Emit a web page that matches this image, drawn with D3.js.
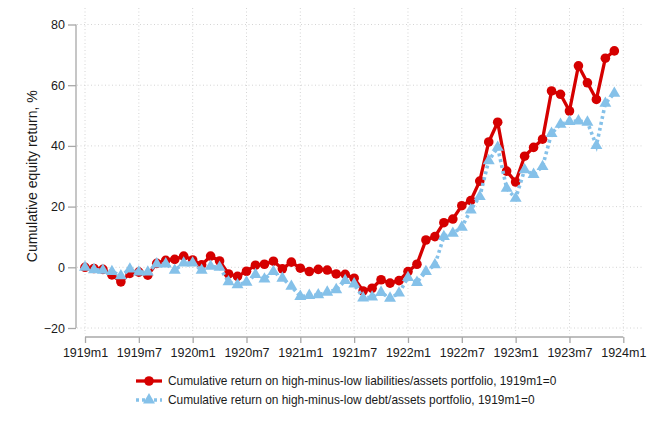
<!DOCTYPE html>
<html>
<head>
<meta charset="utf-8">
<script src="https://cdn.jsdelivr.net/npm/d3@7"></script>
<style>
  html, body { margin: 0; padding: 0; background: #fff; }
  svg { display: block; font-family: "Liberation Sans", Arial, sans-serif; }
</style>
</head>
<body>
<svg id="chart" width="648" height="432"></svg>
<script>
const months = [
  "1919m1","1919m2","1919m3","1919m4","1919m5","1919m6","1919m7","1919m8","1919m9","1919m10","1919m11","1919m12",
  "1920m1","1920m2","1920m3","1920m4","1920m5","1920m6","1920m7","1920m8","1920m9","1920m10","1920m11","1920m12",
  "1921m1","1921m2","1921m3","1921m4","1921m5","1921m6","1921m7","1921m8","1921m9","1921m10","1921m11","1921m12",
  "1922m1","1922m2","1922m3","1922m4","1922m5","1922m6","1922m7","1922m8","1922m9","1922m10","1922m11","1922m12",
  "1923m1","1923m2","1923m3","1923m4","1923m5","1923m6","1923m7","1923m8","1923m9","1923m10","1923m11","1923m12"
];
const liabilitiesSeries = [
  0, -0.4, -0.7, -2.5, -4.8, -2.0, -1.6, -2.6, 1.3, 2.3, 2.6, 3.7,
  2.4, 0.8, 3.7, 2.1, -2.2, -3.0, -1.3, 0.7, 1.0, 2.0, -0.5, 1.7,
  -0.3, -1.4, -0.7, -0.9, -2.2, -2.3, -3.6, -7.8, -6.9, -4.1, -5.2, -4.4,
  -1.4, 1.0, 9.0, 10.1, 14.7, 15.9, 20.3, 22.0, 28.4, 41.3, 47.8, 31.7,
  28.1, 36.6, 39.5, 42.2, 58.1, 57.0, 51.5, 66.4, 60.8, 55.3, 68.9, 71.3
];
const debtSeries = [
  0, -0.8, -1.0, -1.4, -2.8, -0.6, -1.6, -1.6, 1.1, 1.1, -1.0, 1.4,
  1.4, -1.0, 0.3, 0.0, -4.8, -5.8, -4.9, -2.4, -3.9, -1.4, -3.6, -6.3,
  -9.6, -9.3, -9.1, -8.2, -7.4, -4.4, -5.5, -10.1, -9.8, -8.3, -10.2, -8.5,
  -3.4, -5.0, -1.4, 0.8, 10.1, 11.2, 13.2, 18.9, 23.3, 35.1, 39.5, 26.0,
  22.7, 32.1, 30.6, 33.2, 44.1, 47.1, 48.0, 48.2, 47.8, 40.1, 54.0, 57.3
];
const xTickLabels = ["1919m1","1919m7","1920m1","1920m7","1921m1","1921m7","1922m1","1922m7","1923m1","1923m7","1924m1"];
const yTicks = [-20, 0, 20, 40, 60, 80];
const seriesNames = [
  "Cumulative return on high-minus-low liabilities/assets portfolio, 1919m1=0",
  "Cumulative return on high-minus-low debt/assets portfolio, 1919m1=0"
];
const yTitle = "Cumulative equity return, %";

const RED = "#d50000", BLUE = "#85c1e9", AXIS = "#a8a8a8", GRID = "#d4d4d4", TXT = "#1a1a1a";

const svg = d3.select("#chart");
// x domain in months since 1919m1 (tick labels span 0..60)
const x = d3.scaleLinear().domain([0, 60]).range([85, 623.3]);
const y = d3.scaleLinear().domain([-20, 80]).range([328, 24.5]);
const xTickVals = xTickLabels.map((_, i) => i * 6);

// gridlines
const grid = svg.append("g");
grid.selectAll("line.h").data(yTicks).join("line")
  .attr("x1", 77).attr("x2", 643)
  .attr("y1", d => y(d)).attr("y2", d => y(d))
  .attr("stroke", GRID).attr("stroke-width", 1).attr("stroke-dasharray", "1,2.5");
grid.selectAll("line.v").data(xTickVals).join("line")
  .attr("x1", d => x(d)).attr("x2", d => x(d))
  .attr("y1", 8).attr("y2", 334)
  .attr("stroke", GRID).attr("stroke-width", 1).attr("stroke-dasharray", "1,2.5");

// y axis
const yAxis = d3.axisLeft(y).tickValues(yTicks).tickSize(8).tickPadding(3).tickFormat(d3.format("d"));
const gy = svg.append("g").attr("transform", "translate(76,0)").call(yAxis);
gy.select(".domain").attr("stroke", AXIS).attr("stroke-width", 1.3).attr("d", `M0,${y(-20)}V${y(80)}`);
gy.selectAll(".tick line").attr("stroke", AXIS).attr("stroke-width", 1.3);
gy.selectAll(".tick text").attr("fill", TXT).style("font-size", "12.5px").attr("font-family", "Liberation Sans, Arial, sans-serif");

// x axis
const xAxis = d3.axisBottom(x).tickValues(xTickVals).tickSize(6).tickPadding(5)
  .tickFormat((d, i) => xTickLabels[i]);
const gx = svg.append("g").attr("transform", "translate(0,337)").call(xAxis);
gx.select(".domain").attr("stroke", AXIS).attr("stroke-width", 1.3).attr("d", `M${x(0)},0H${x(60)}`);
gx.selectAll(".tick line").attr("stroke", AXIS).attr("stroke-width", 1.3);
gx.selectAll(".tick text").attr("fill", TXT).style("font-size", "12.5px").attr("font-family", "Liberation Sans, Arial, sans-serif");

// y title
svg.append("text")
  .attr("transform", `translate(37,${(y(-20) + y(80)) / 2}) rotate(-90)`)
  .attr("text-anchor", "middle")
  .attr("fill", TXT).style("font-size", "14px")
  .text(yTitle);

const line = d3.line().x((d, i) => x(i)).y(d => y(d));
const tri = d3.symbol().type(d3.symbolTriangle).size(62);

// red series
svg.append("path").datum(liabilitiesSeries).attr("d", line)
  .attr("fill", "none").attr("stroke", RED).attr("stroke-width", 3.3).attr("stroke-linejoin", "round");
svg.append("g").selectAll("circle").data(liabilitiesSeries).join("circle")
  .attr("cx", (d, i) => x(i)).attr("cy", d => y(d)).attr("r", 4.8).attr("fill", RED);

// blue series
svg.append("path").datum(debtSeries).attr("d", line)
  .attr("fill", "none").attr("stroke", BLUE).attr("stroke-width", 3.6).attr("stroke-dasharray", "3,3");
svg.append("g").selectAll("path").data(debtSeries).join("path")
  .attr("d", tri).attr("transform", (d, i) => `translate(${x(i)},${y(d)})`).attr("fill", BLUE);

// legend
const lg = svg.append("g");
const rows = [
  { name: seriesNames[0], color: RED, type: "circle", y: 381 },
  { name: seriesNames[1], color: BLUE, type: "tri", y: 400 }
];
rows.forEach(r => {
  const ln = lg.append("line").attr("x1", 136).attr("x2", 162).attr("y1", r.y).attr("y2", r.y)
    .attr("stroke", r.color).attr("stroke-width", r.type === "circle" ? 3.3 : 3.6);
  if (r.type === "tri") ln.attr("stroke-dasharray", "3,3");
  if (r.type === "circle") {
    lg.append("circle").attr("cx", 149).attr("cy", r.y).attr("r", 4.8).attr("fill", r.color);
  } else {
    lg.append("path").attr("d", tri).attr("transform", `translate(149,${r.y})`).attr("fill", r.color);
  }
  lg.append("text").attr("x", 168).attr("y", r.y + 4.3).attr("fill", TXT).style("font-size", "11.9px").text(r.name);
});
</script>
</body>
</html>
